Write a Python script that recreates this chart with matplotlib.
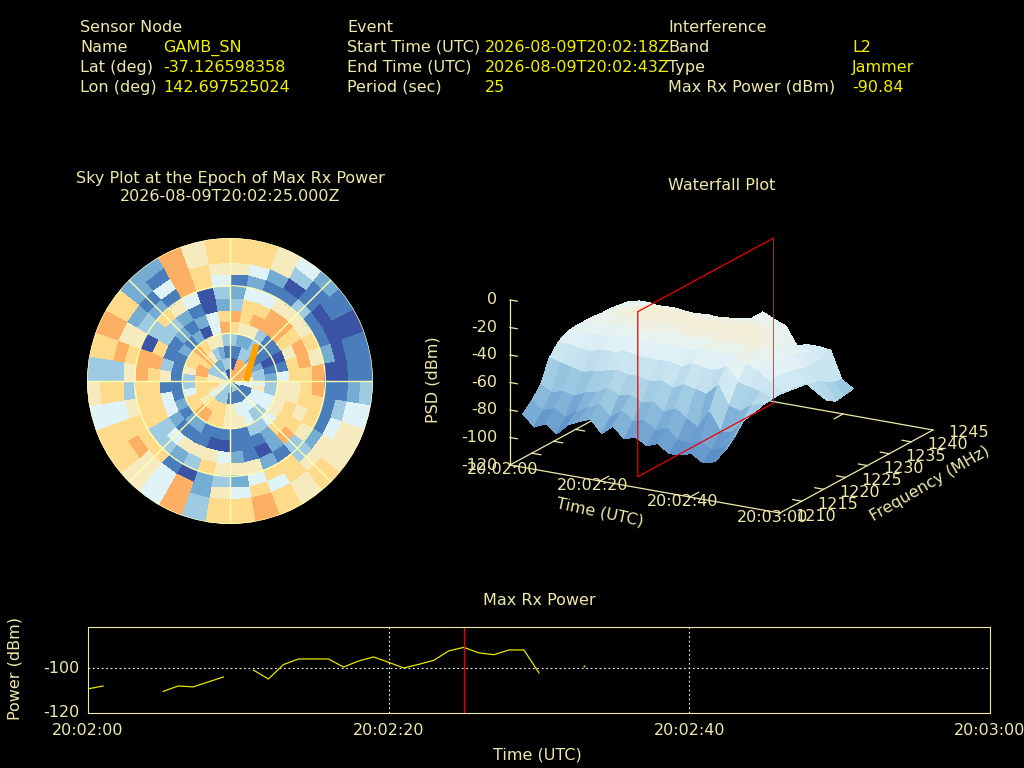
import numpy as np
import matplotlib
matplotlib.use("Agg")
import matplotlib.pyplot as plt
from matplotlib.colors import ListedColormap, LinearSegmentedColormap, Normalize
from mpl_toolkits.mplot3d import proj3d

nan = np.nan

# sky plot: colour level per ring (inner to outer), 36 sectors clockwise from north
ring_00 = [7,7,7,7,7,7, 7,7,7,7,4,4, 1,1,2,3,3,1, 3,3,3,3,4,4, 4,5,5,5,5,3, 3,3,4,3,0,0]
ring_01 = [0,0,7,7,7,7, 7,7,5,4,4,1, 1,1,1,1,1,1, 1,3,3,3,3,4, 5,6,6,5,5,3, 3,3,2,2,3,3]
ring_02 = [1,1,3,3,2,1, 2,3,3,4,5,4, 4,4,4,4,4,5, 5,6,6,6,6,5, 6,6,6,6,7,7, 6,7,5,3,2,1]
ring_03 = [3,2,2,3,1,1, 0,1,2,3,3,4, 4,3,3,4,5,5, 5,6,6,7,7,6, 6,4,3,3,5,6, 6,7,6,5,5,3]
ring_04 = [6,5,5,3,1,1, 0,1,4,5,5,5, 5,4,3,3,1,1, 1,1,1,2,2,1, 2,1,1,1,1,1, 2,1,2,0,4,7]
ring_05 = [7,6,7,7,7,6, 5,6,6,5,5,6, 6,6,2,1,1,1, 0,0,1,1,1,2, 4,4,1,5,3,1, 1,2,1,2,4,6]
ring_06 = [3,6,6,7,7,6, 7,7,6,6,6,5, 6,7,2,0,1,2, 4,5,5,5,4,3, 6,6,6,6,7,6, 3,3,2,1,0,2]
ring_07 = [2,4,4,5,5,5, 6,5,7,7,6,6, 5,3,1,2,5,5, 5,6,3,2,3,3, 6,6,6,7,7,0, 3,6,5,4,0,3]
ring_08 = [1,2,1,1,3,1, 1,2,0,1,1,1, 2,3,6,6,4,2, 3,2,0,1,6,6, 6,5,3,5,6,5, 3,2,1,7,6,4]
ring_09 = [5,4,2,0,1,0, 0,0,0,1,3,4, 5,5,6,4,6,4, 5,2,7,4,5,7, 6,4,6,3,7,5, 2,1,4,7,6,5]
ring_10 = [6,6,5,3,1,1, 0,1,1,2,4,5, 5,6,5,6,7,6, 6,3,7,4,5,6, 6,4,6,3,6,7, 6,2,1,7,5,6]
ring_11 = [6,6,5,4,2,1, 0,1,1,3,4,5, 5,6,5,6,7,6, 6,3,7,4,5,6, 6,4,5,3,6,7, 6,2,2,7,5,6]
sky_colors = ["#3a53a4", "#4a7dbb", "#74add1", "#9fcbe2", "#e0f3f8", "#f6eabf", "#fedb8b", "#fdb063"]
track_az = [90, 36]
track_el = [10, 28.5]

# waterfall: PSD (dBm) per frequency row, time columns every 2.5 s from 0 to 50 s
wf_time = [0,2.5,5,7.5,10,12.5,15,17.5,20,22.5,25,27.5,30,32.5,35,37.5,40,42.5,45,47.5,50]
wf_freq = [1213,1215,1217,1219,1221,1223,1225,1227,1229,1231,1233,1235,1237]
wf_1213 = [-88,-96,-92,-98,-90,-86,-83,-92,-85,-93,-90,-95,-92,-98,-97,-95,-100,-98,-88,nan,nan]
wf_1215 = [-82,-88,-85,-90,-84,-80,-76,-84,-78,-84,-82,-88,-85,-92,-93,-90,-95,-92,-82,nan,nan]
wf_1217 = [-74,-78,-76,-78,-74,-72,-68,-72,-70,-74,-72,-78,-74,-80,-85,-72,-85,-84,-74,nan,nan]
wf_1219 = [-58,-60,-62,-64,-62,-60,-58,-60,-60,-62,-60,-64,-60,-62,-64,-56,-70,-72,-66,-64,nan]
wf_1221 = [-50,-50,-52,-52,-50,-50,-48,-50,-50,-50,-50,-52,-48,-50,-50,-46,-56,-58,-60,-63,nan]
wf_1223 = [-46,-45,-44,-44,-43,-43,-42,-43,-43,-42,-42,-43,-40,-41,-42,-40,-46,-50,-56,-63,nan]
wf_1225 = [-45,-42,-41,-40,-39,-38,-39,-40,-38,-37,-38,-38,-37,-37,-38,-38,-42,-48,-56,-64,nan]
wf_1227 = [-45,-41,-39,-37,-36,-36,-37,-36,-35,-36,-36,-36,-36,-36,-36,-38,-42,-48,-56,-65,nan]
wf_1229 = [-45,-41,-38,-36,-35,-35,-36,-35,-36,-36,-35,-36,-35,-36,-37,-40,-44,-50,-58,-66,nan]
wf_1231 = [-46,-42,-39,-37,-36,-37,-37,-37,-37,-38,-37,-38,-37,-37,-39,-42,-46,-52,-60,-68,-80]
wf_1233 = [-46,-43,-41,-40,-39,-39,-39,-40,-40,-40,-39,-40,-39,-39,-41,-46,-50,-54,-60,-72,-84]
wf_1235 = [-47,-45,-43,-43,-42,-42,-43,-44,-43,-43,-42,-43,-41,-42,-44,-50,-54,-56,-60,-76,-83]
wf_1237 = [-48,-46,-46,-48,-47,-48,-48,-47,-48,-47,-46,-44,-38,-42,-45,-58,-56,-56,-57,-77,-82]
wf_levels = [-100, -88, -76, -62, -50, -42, -35]
wf_colors = ["#5b8fc7", "#78abd5", "#9cc9e2", "#c3e1ee", "#dff0f6", "#e8f3ef", "#f4eed6"]

# max rx power, one sample per second
power_t = [0,1,2,5,6,7,8,9,10,11,12,13,14,15,16,17,18,19,20,21,22,23,24,25,26,27,28,29,30]
power_db = [-109.3,-108,nan,-110.4,-108,-108.4,-106.2,-104,nan,-100.9,-104.9,-98.5,-96,-96,-96,-99.6,
            -96.9,-95.1,-97.5,-100,-98.4,-96.6,-92.4,-90.84,-93.3,-94.1,-92,-92,-102.2]
dot_t = [33]
dot_db = [-99.1]
peak_t = 25

time_ticks = [0, 20, 40, 60]
time_labels = ["20:02:00", "20:02:20", "20:02:40", "20:03:00"]
freq_ticks = [1210, 1215, 1220, 1225, 1230, 1235, 1240, 1245]
psd_ticks = [0, -20, -40, -60, -80, -100, -120]

txt = "#eee8aa"
val = "#f0f000"
fs = 11.55

plt.rcParams["font.family"] = "DejaVu Sans"
fig = plt.figure(figsize=(10.24, 7.68), dpi=100, facecolor="black")


def put(x, y, s, **kw):
    # x, y in image pixels from the top left, y is the middle of the text line
    kw.setdefault("color", txt)
    kw.setdefault("fontsize", fs)
    if "rotation" in kw:
        kw.setdefault("va", "center")
    else:
        kw.setdefault("va", "baseline")
        y = y + 5
    fig.text(x / 1024, 1 - y / 768, s, **kw)


# header
put(80, 27, "Sensor Node")
put(80, 47, "Name")
put(80, 67, "Lat (deg)")
put(80, 87, "Lon (deg)")
put(163, 47, "GAMB_SN", color=val)
put(163, 67, "-37.126598358", color=val)
put(163, 87, "142.697525024", color=val)
put(347, 27, "Event")
put(347, 47, "Start Time (UTC)")
put(347, 67, "End Time (UTC)")
put(347, 87, "Period (sec)")
put(485, 47, "2026-08-09T20:02:18Z", color=val)
put(485, 67, "2026-08-09T20:02:43Z", color=val)
put(485, 87, "25", color=val)
put(668, 27, "Interference")
put(668, 47, "Band")
put(668, 67, "Type")
put(668, 87, "Max Rx Power (dBm)")
put(852, 47, "L2", color=val)
put(852, 67, "Jammer", color=val)
put(852, 87, "-90.84", color=val)
put(230, 178, "Sky Plot at the Epoch of Max Rx Power", ha="center")
put(230, 196, "2026-08-09T20:02:25.000Z", ha="center")
put(722, 185, "Waterfall Plot", ha="center")
put(539, 600, "Max Rx Power", ha="center")

# sky plot
sky = np.array([ring_00, ring_01, ring_02, ring_03, ring_04, ring_05,
                ring_06, ring_07, ring_08, ring_09, ring_10, ring_11])
ax = fig.add_axes([87 / 1024, 1 - 524 / 768, 286 / 1024, 286 / 768], projection="polar")
ax.set_facecolor("black")
ax.set_theta_zero_location("N")
ax.set_theta_direction(-1)
th = np.radians(np.arange(0, 361, 10))
rr = np.linspace(0, 90, sky.shape[0] + 1)
ax.pcolormesh(th, rr, sky, cmap=ListedColormap(sky_colors), vmin=-0.5, vmax=7.5,
              shading="flat", antialiased=False)
ax.plot(np.radians(track_az), track_el, color="#ffa000", lw=4.5, solid_capstyle="butt")
ax.set_ylim(0, 90)
ax.set_rticks([30, 60, 90])
ax.set_xticks(np.radians(np.arange(0, 360, 45)))
ax.set_xticklabels([])
ax.set_yticklabels([])
ax.grid(True, color="#ffffb0", lw=1)
ax.spines["polar"].set_visible(False)

# waterfall
ax3 = fig.add_axes([0.1, 0.0, 0.75, 1.0], projection="3d", proj_type="ortho", computed_zorder=False)
ax3.set_axis_off()
ax3.patch.set_alpha(0)
ax3.set_xlim(0, 60)
ax3.set_ylim(1210, 1245)
ax3.set_zlim(-120, 0)
ax3.set_box_aspect((311, 308, 173.6))
ax3.view_init(elev=18.1, azim=-60.2)


def to_px(t, f, z):
    x, y, _ = proj3d.proj_transform(t, f, z, ax3.get_proj())
    return ax3.transData.transform((x, y))


# fit the box so that its corners land where they are in the picture
a = to_px(0, 1210, -120)
c = to_px(60, 1245, -120)
size = 768 * (933 - 510) / (c[0] - a[0])
ax3.set_position([0, 0, size / 1024, size / 768])
a = to_px(0, 1210, -120)
ax3.set_position([(510 - a[0]) / 1024, ((768 - 465) - a[1]) / 768, size / 1024, size / 768])

ax3.plot([0, 0], [1210, 1245], [-120, -120], color=txt, lw=0.9, zorder=1)
ax3.plot([0, 60], [1245, 1245], [-120, -120], color=txt, lw=0.9, zorder=1)
for f in freq_ticks[1:-1]:
    ax3.plot([0, 2], [f, f], [-120, -120], color=txt, lw=0.9, zorder=1)
for t in time_ticks[1:-1]:
    ax3.plot([t, t], [1245, 1243], [-120, -120], color=txt, lw=0.9, zorder=1)

T, F = np.meshgrid(wf_time, wf_freq)
Z = np.array([wf_1213, wf_1215, wf_1217, wf_1219, wf_1221, wf_1223, wf_1225,
              wf_1227, wf_1229, wf_1231, wf_1233, wf_1235, wf_1237])
wf_norm = Normalize(wf_levels[0], wf_levels[-1])
wf_cmap = LinearSegmentedColormap.from_list("wf", [(wf_norm(v), c) for v, c in zip(wf_levels, wf_colors)])
ax3.plot_surface(T, F, Z, facecolors=wf_cmap(wf_norm(np.nan_to_num(Z, nan=-100))),
                 rstride=1, cstride=1, linewidth=0.3, antialiased=False, shade=False, zorder=2)

ax3.plot([0, 60], [1210, 1210], [-120, -120], color=txt, lw=0.9, zorder=3)
ax3.plot([60, 60], [1210, 1245], [-120, -120], color=txt, lw=0.9, zorder=3)
ax3.plot([0, 0], [1210, 1210], [-120, 0], color=txt, lw=0.9, zorder=3)
for f in freq_ticks[1:-1]:
    ax3.plot([60, 58], [f, f], [-120, -120], color=txt, lw=0.9, zorder=3)
for t in time_ticks[1:-1]:
    ax3.plot([t, t], [1210, 1212], [-120, -120], color=txt, lw=0.9, zorder=3)
for z in psd_ticks:
    ax3.plot([0, 1.6], [1210, 1210], [z, z], color=txt, lw=0.9, zorder=3)

# red plane at the peak epoch, its far edge is dim
ax3.plot([peak_t, peak_t, peak_t, peak_t], [1244.5, 1213.5, 1213.5, 1244.5],
         [-120, -120, 0, 0], color="#ee0000", lw=0.9, zorder=4)
ax3.plot([peak_t, peak_t], [1244.5, 1244.5], [0, -120], color="#a04040", lw=0.6, zorder=4)

for z in psd_ticks:
    p = to_px(0, 1210, z)
    fig.text((p[0] - 13) / 1024, p[1] / 768, str(z), color=txt, fontsize=fs, ha="right", va="center")
for t, s in zip(time_ticks, time_labels):
    p = to_px(t, 1210, -120)
    fig.text((p[0] - 7) / 1024, (p[1] - 4) / 768, s, color=txt, fontsize=fs, ha="center", va="center")
for f in freq_ticks:
    p = to_px(60, f, -120)
    fig.text((p[0] + 36) / 1024, (p[1] - 3) / 768, str(f), color=txt, fontsize=fs, ha="center", va="center")
put(433, 380, "PSD (dBm)", rotation=90, ha="center")
put(600, 512, "Time (UTC)", rotation=-12, ha="center", rotation_mode="anchor")
put(930, 484, "Frequency (MHz)", rotation=30, ha="center", rotation_mode="anchor")

# power
ax2 = fig.add_axes([88 / 1024, 1 - 713 / 768, 902 / 1024, 86 / 768])
ax2.set_facecolor("black")
ax2.plot(power_t, power_db, color="#e6e600", lw=0.9)
ax2.plot(dot_t, dot_db, ls="none", marker=".", ms=1, color="#e6e600")
ax2.axvline(peak_t, color="#ee0000", lw=1)
ax2.set_xlim(0, 60)
ax2.set_ylim(-120, -81.8)
ax2.set_xticks([20, 40])
ax2.set_xticklabels([])
ax2.set_yticks([-100])
ax2.set_yticklabels([])
ax2.grid(True, color="white", lw=0.8, ls=(0, (1.5, 2.5)))
ax2.tick_params(length=0)
for s in ax2.spines.values():
    s.set_color(txt)
for t, s in zip(time_ticks, time_labels):
    put(88 + t * 15.03, 730, s, ha="center")
put(79, 668, "-100", ha="right")
put(79, 712, "-120", ha="right")
put(15, 668, "Power (dBm)", rotation=90, ha="center")
put(537, 754, "Time (UTC)", ha="center")

fig.savefig("out.png", dpi=100, facecolor="black")
